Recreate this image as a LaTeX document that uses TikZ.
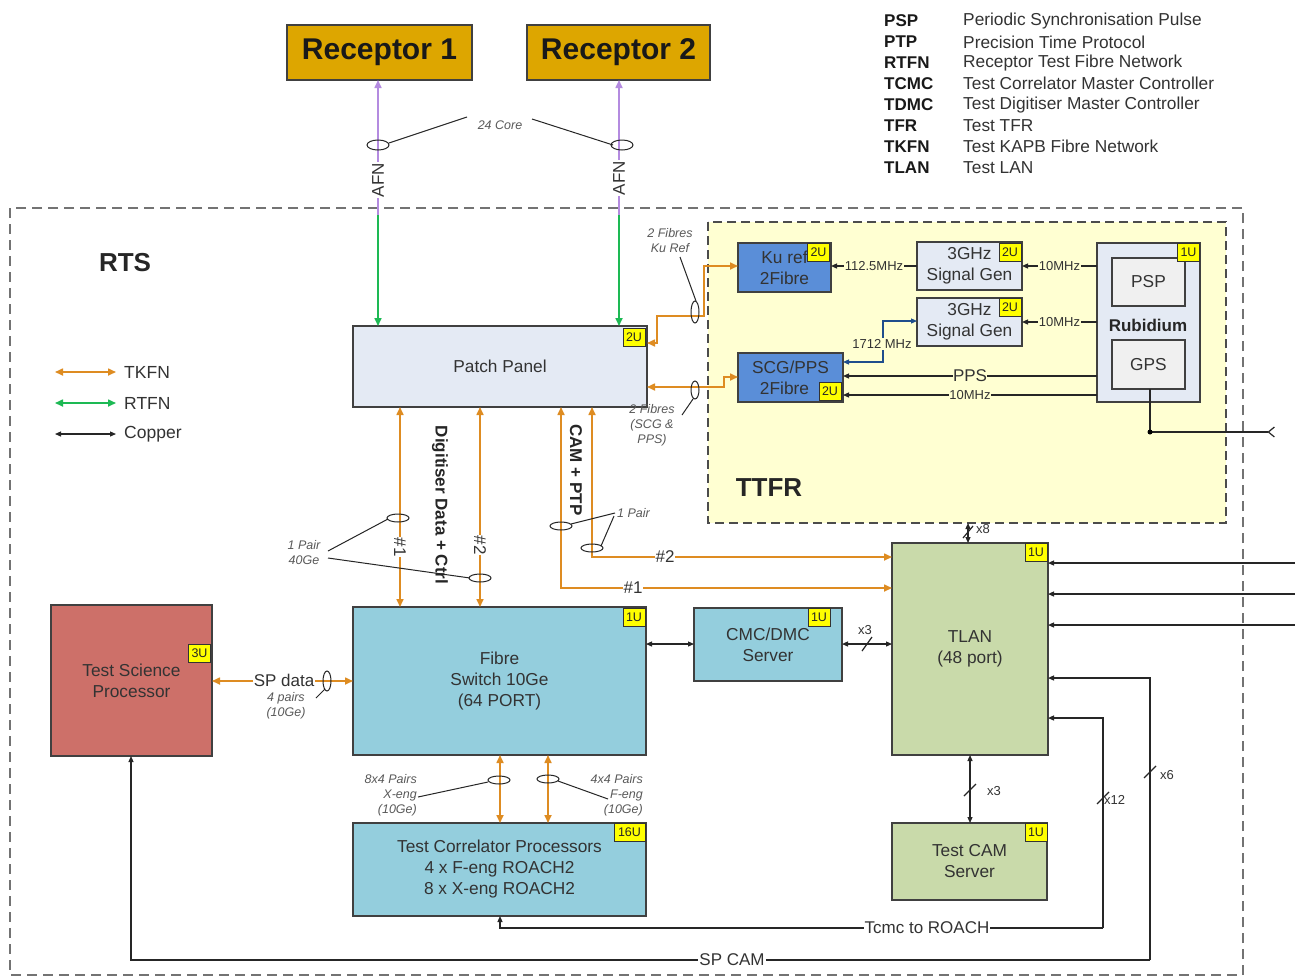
\documentclass[tikz,border=0pt]{standalone}
\usepackage{fontspec}
\setmainfont{Liberation Sans}
\usetikzlibrary{arrows.meta,calc,shapes.geometric}
\definecolor{gold}{HTML}{DDA600}
\definecolor{tkfn}{HTML}{DE8C22}
\definecolor{rtfn}{HTML}{1DB954}
\definecolor{afn}{HTML}{B48BE0}
\definecolor{pale}{HTML}{E4EAF4}
\definecolor{ttfrbg}{HTML}{FFFFD2}
\definecolor{midblue}{HTML}{5A8ED8}
\definecolor{tagyel}{HTML}{FFFF00}
\definecolor{teal}{HTML}{94CEDD}
\definecolor{brick}{HTML}{CD7069}
\definecolor{olive}{HTML}{C9DAAA}
\definecolor{lgray}{HTML}{F0F0F0}
\definecolor{navy}{HTML}{1F4E8C}
\begin{document}
\begin{tikzpicture}[x=1pt,y=-1pt,
  box/.style={draw=black!75, line width=1.2pt, inner sep=0pt, outer sep=0pt, align=center, font=\fontsize{17.3}{21}\selectfont, text=black!80},
  tag/.style={draw=black!80, fill=tagyel, line width=0.8pt, font=\fontsize{12.5}{12.5}\selectfont, inner sep=0pt, minimum width=22pt, minimum height=18pt, text=black!85},
  tk/.style={draw=tkfn, line width=1.6pt, >={Triangle[length=8pt,width=7pt]}},
  rt/.style={draw=rtfn, line width=1.6pt, >={Triangle[length=8pt,width=7pt]}},
  af/.style={draw=afn, line width=1.6pt, >={Triangle[length=8pt,width=7pt]}},
  cu/.style={draw=black!85, line width=1.2pt, >={Triangle[length=6pt,width=5pt]}},
  lab/.style={font=\fontsize{17}{17}\selectfont, fill=white, inner sep=1pt, text=black!80},
  sml/.style={font=\fontsize{13}{13}\selectfont, inner sep=1pt, text=black!80},
  note/.style={font=\itshape\fontsize{12.5}{15}\selectfont, text=black!65, align=center, inner sep=0pt},
  fib/.style={draw=black!85, line width=1pt},
  leader/.style={draw=black!85, line width=1pt},
  bigt/.style={font=\bfseries\fontsize{26}{26}\selectfont, text=black!85},
  abbr/.style={font=\bfseries\fontsize{17}{17}\selectfont, anchor=west, inner sep=0pt, text=black!90},
  desc/.style={font=\fontsize{17.3}{17}\selectfont, anchor=west, inner sep=0pt, text=black!80}
]
\useasboundingbox (0,0) rectangle (1295,978);
\fill[white] (0,0) rectangle (1295,978);

% RTS region
\draw[gray!90!black, line width=2pt, dash pattern=on 10pt off 6pt] (10,208) rectangle (1243,975);
% TTFR region
\draw[fill=ttfrbg, draw=black!70, line width=1.8pt, dash pattern=on 9pt off 5pt] (708,222) rectangle (1226,523);

\node[bigt] (rts) at (125,263) {RTS};
\node[bigt] (ttfr) at (769,488) {TTFR};

% abbreviations
\foreach \a/\d [count=\i from 0] in {PSP/Periodic Synchronisation Pulse, PTP/Precision Time Protocol, RTFN/Receptor Test Fibre Network, TCMC/Test Correlator Master Controller, TDMC/Test Digitiser Master Controller, TFR/Test TFR, TKFN/Test KAPB Fibre Network, TLAN/Test LAN}{
  \node[abbr] (ab\i) at (884,{21+20.9*\i}) {\a};
  \node[desc] (de\i) at (963,{21+20.9*\i}) {\d};
}

% receptors
\node[box, fill=gold, minimum width=185pt, minimum height=55pt, font=\bfseries\fontsize{30}{30}\selectfont, text=black!90] (rec1) at (379.5,52.5) {Receptor 1};
\node[box, fill=gold, minimum width=183pt, minimum height=55pt, font=\bfseries\fontsize{30}{30}\selectfont, text=black!90] (rec2) at (618.5,52.5) {Receptor 2};

% main boxes
\node[box, fill=pale, minimum width=294pt, minimum height=81pt] (patch) at (500,366.5) {Patch Panel};
\node[box, fill=midblue, minimum width=93pt, minimum height=49pt] (kuref) at (784.5,267.5) {Ku ref\\2Fibre};
\node[box, fill=pale, minimum width=105pt, minimum height=48pt] (sg1) at (969.5,266) {3GHz\\Signal Gen};
\node[box, fill=pale, minimum width=105pt, minimum height=48pt] (sg2) at (969.5,322) {3GHz\\Signal Gen};
\node[box, fill=midblue, minimum width=105pt, minimum height=49pt] (scg) at (790.5,377.5) {SCG/PPS\\2Fibre\hspace*{12pt}};
\node[box, fill=pale, minimum width=103pt, minimum height=159pt] (rub) at (1148.5,322.5) {};
\node[box, fill=lgray, minimum width=73pt, minimum height=48pt] (psp) at (1148.5,282) {PSP};
\node[box, fill=lgray, minimum width=73pt, minimum height=49pt] (gps) at (1148.5,364.5) {GPS};
\node[font=\bfseries\fontsize{17}{17}\selectfont, text=black!85] (rubl) at (1148,325) {Rubidium};
\node[box, fill=teal, minimum width=293pt, minimum height=148pt] (fsw) at (499.5,681) {Fibre\\Switch 10Ge\\(64 PORT)};
\node[box, fill=brick, minimum width=161pt, minimum height=151pt] (tsp) at (131.5,680.5) {Test Science\\Processor};
\node[box, fill=teal, minimum width=148pt, minimum height=73pt] (cmc) at (768,644.5) {CMC/DMC\\Server};
\node[box, fill=olive, minimum width=156pt, minimum height=212pt] (tlan) at (970,649) {TLAN\\(48 port)};
\node[box, fill=olive, minimum width=155pt, minimum height=77pt] (tcam) at (969.5,861.5) {Test CAM\\Server};
\node[box, fill=teal, minimum width=293pt, minimum height=93pt] (tcp) at (499.5,869.5) {Test Correlator Processors\\4 x F-eng ROACH2\\8 x X-eng ROACH2};

% tags
\node[tag] (tgpatch) at (634,337) {2U};
\node[tag] (tgku) at (818.5,252.5) {2U};
\node[tag] (tgsg1) at (1010,252) {2U};
\node[tag] (tgsg2) at (1010,307.5) {2U};
\node[tag] (tgscg) at (830,391) {2U};
\node[tag] (tgrub) at (1188.5,252.5) {1U};
\node[tag] (tgfsw) at (634,617) {1U};
\node[tag] (tgtsp) at (199.5,653) {3U};
\node[tag] (tgcmc) at (819,617) {1U};
\node[tag] (tgtlan) at (1036,552) {1U};
\node[tag] (tgtcam) at (1036,832) {1U};
\node[tag, minimum width=31pt] (tgtcp) at (629.5,832) {16U};

% AFN / RTFN from receptors
\coordinate (a1) at (378,215);
\coordinate (a2) at (619,215);
\draw[af,->] (a1) -- (a1 |- rec1.south);
\draw[af,->] (a2) -- (a2 |- rec2.south);
\draw[rt,->] (a1) -- (a1 |- patch.north);
\draw[rt,->] (a2) -- (a2 |- patch.north);
\node[font=\fontsize{17}{17}\selectfont, rotate=90, fill=white, inner sep=1pt, text=black!80] (afn1) at (378,180) {AFN};
\node[font=\fontsize{17}{17}\selectfont, rotate=90, fill=white, inner sep=1pt, text=black!80] (afn2) at (619,178) {AFN};
\draw[fib] (378,145) ellipse [x radius=11pt, y radius=5pt];
\draw[fib] (622,145) ellipse [x radius=11pt, y radius=5pt];
\node[note] (core) at (500,125) {24 Core};
\draw[leader] (389,143) -- (467,117);
\draw[leader] (532,119) -- (613,145);

% legend
\coordinate (lg1) at (55,372); \coordinate (lg1e) at (116,372);
\coordinate (lg2) at (55,403); \coordinate (lg2e) at (116,403);
\coordinate (lg3) at (55,434); \coordinate (lg3e) at (116,434);
\draw[tk,<->] (lg1) -- (lg1e);
\draw[rt,<->] (lg2) -- (lg2e);
\draw[cu,<->] (lg3) -- (lg3e);
\node[desc, font=\fontsize{17.5}{17.5}\selectfont] (lgt1) at (124,372) {TKFN};
\node[desc, font=\fontsize{17.5}{17.5}\selectfont] (lgt2) at (124,403) {RTFN};
\node[desc, font=\fontsize{17.5}{17.5}\selectfont] (lgt3) at (124,434) {Copper};

% TTFR internal
\draw[cu,->] (sg1.west) -- (sg1.west -| kuref.east) node[midway, sml, fill=ttfrbg] (l1125) {112.5MHz};
\draw[cu,->] (rub.west |- sg1.west) -- (sg1.east) node[midway, sml, fill=ttfrbg] (l10a) {10MHz};
\draw[cu,->] (rub.west |- sg2.west) -- (sg2.east) node[midway, sml, fill=ttfrbg] (l10b) {10MHz};
\coordinate (q1) at (883,362);
\draw[cu, draw=navy, <->] (q1 -| scg.east) -- (q1) -- (883,321) -- (sg2.west |- 0,321);
\node[sml, fill=ttfrbg] (l1712) at (882,344) {1712 MHz};
\draw[cu,->] (rub.west |- 0,376) -- (scg.east |- 0,376) node[pos=0.5, font=\fontsize{17}{17}\selectfont, fill=ttfrbg, inner sep=0pt, text=black!80] (lpps) {PPS};
\draw[cu,->] (rub.west |- 0,395) -- (scg.east |- 0,395) node[pos=0.5, sml, fill=ttfrbg, inner sep=0pt] (l10c) {10MHz};
\coordinate (gd) at (1150,432);
\coordinate (gend) at (1275,432);
\draw[cu, -{Straight Barb[reversed, length=6pt, width=10pt]}] (gps.south -| gd) -- (gd) -- (gend);
\fill (gd) circle [radius=2.5pt];

% orange fibres from patch to TTFR
\draw[tk,<->] (patch.east |- 0,343) -- (657,343) -- (657,316) -- (704,316) -- (704,266) -- (kuref.west |- 0,266);
\draw[tk,<->] (patch.east |- 0,387) -- (724,387) -- (724,377) -- (scg.west |- 0,377);
\draw[fib] (695,312) ellipse [x radius=4pt, y radius=11pt];
\draw[fib] (695,390) ellipse [x radius=4pt, y radius=9pt];
\node[note] (f2ku) at (670,241) {2 Fibres\\Ku Ref};
\draw[leader] (696,301) -- (680,257);
\node[note] (f2scg) at (652,425) {2 Fibres\\(SCG \&\\PPS)};
\draw[leader] (693,399) -- (682,415);

% Digitiser data
\coordinate (d1) at (400,407);
\coordinate (d2) at (480,407);
\draw[tk,<->] (d1) -- (d1 |- fsw.north);
\draw[tk,<->] (d2) -- (d2 |- fsw.north);
\node[font=\bfseries\fontsize{17}{17}\selectfont, rotate=-90, text=black!85] (dig) at (440,505) {Digitiser Data + Ctrl};
\node[font=\fontsize{17}{17}\selectfont, rotate=-90, fill=white, inner sep=1pt, text=black!80] (h1) at (400,547) {\#1};
\node[font=\fontsize{17}{17}\selectfont, rotate=-90, fill=white, inner sep=1pt, text=black!80] (h2) at (480,545) {\#2};
\draw[fib] (398,518) ellipse [x radius=11pt, y radius=4pt];
\draw[fib] (480,578) ellipse [x radius=11pt, y radius=4pt];
\node[note] (p40) at (304,553) {1 Pair\\40Ge};
\draw[leader] (328,551) -- (388,519);
\draw[leader] (328,558) -- (470,578);

% CAM + PTP
\coordinate (c1) at (561,407);
\coordinate (c2) at (592,407);
\draw[tk,<->] (c1) -- (561,588) -- (tlan.west |- 0,588);
\draw[tk,<->] (c2) -- (592,557) -- (tlan.west |- 0,557);
\node[font=\fontsize{17}{17}\selectfont, fill=white, inner sep=1pt, text=black!80] (hc1) at (633,588) {\#1};
\node[font=\fontsize{17}{17}\selectfont, fill=white, inner sep=1pt, text=black!80] (hc2) at (665,557) {\#2};
\node[font=\bfseries\fontsize{17}{17}\selectfont, rotate=-90, text=black!85] (camptp) at (576,470) {CAM + PTP};
\draw[fib] (561,526) ellipse [x radius=11pt, y radius=4pt];
\draw[fib] (592,548) ellipse [x radius=11pt, y radius=4pt];
\node[note, anchor=west] (p1) at (617,513) {1 Pair};
\draw[leader] (571,524) -- (615,513);
\draw[leader] (601,546) -- (614,516);

% SP data
\draw[tk,<->] (tsp.east |- 0,681) -- (fsw.west |- 0,681);
\node[lab] (spd) at (284,680) {SP data};
\draw[fib] (327,681) ellipse [x radius=4pt, y radius=10pt];
\draw[leader] (325,689) -- (316,698);
\node[note] (p4) at (286,706) {4 pairs\\(10Ge)};

% fibre switch <-> correlator
\coordinate (e1) at (500,755);
\coordinate (e2) at (548,755);
\draw[tk,<->] (e1) -- (e1 |- tcp.north);
\draw[tk,<->] (e2) -- (e2 |- tcp.north);
\draw[fib] (499,780) ellipse [x radius=11pt, y radius=4pt];
\draw[fib] (548,779) ellipse [x radius=11pt, y radius=4pt];
\draw[leader] (488,782) -- (418,797);
\draw[leader] (558,781) -- (608,799);
\node[note, align=right, anchor=east] (x8x4) at (417,795) {8x4 Pairs\\X-eng\\(10Ge)};
\node[note, align=right, anchor=east] (f4x4) at (643,795) {4x4 Pairs\\F-eng\\(10Ge)};

% copper
\draw[cu,<->] (fsw.east |- 0,644) -- (cmc.west |- 0,644);
\draw[cu,<->] (cmc.east |- 0,644) -- (tlan.west |- 0,644);
\draw[cu] (862,651) -- (872,637);
\node[sml] (x3a) at (865,630) {x3};
\coordinate (tt) at (968,523);
\draw[cu,<->] (tt) -- (tt |- tlan.north);
\draw[cu] (963,538) -- (973,526);
\node[sml, anchor=west, inner sep=0pt] (x8) at (976,529) {x8};
\coordinate (tc) at (970,755);
\draw[cu,<->] (tc) -- (tc |- tcam.north);
\draw[cu] (964,796) -- (976,784);
\node[sml] (x3b) at (994,791) {x3};
\foreach \yy [count=\k] in {563,594,625}{
  \coordinate (rin\k) at (1295,\yy);
  \draw[cu,->] (rin\k) -- (rin\k -| tlan.east);
}
% Tcmc to ROACH
\coordinate (tr1) at (1103,718);
\coordinate (tr2) at (1103,928);
\coordinate (tr3) at (500,928);
\draw[cu,->] (tr2) -- (tr1) -- (tr1 -| tlan.east);
\draw[cu,->] (tr2) -- (tr3) -- (tr3 |- tcp.south);
\node[font=\fontsize{17}{17}\selectfont, fill=white, inner sep=1pt, text=black!80] (ltcmc) at (927,928) {Tcmc to ROACH};
\draw[cu] (1097,804) -- (1109,792);
\node[sml, anchor=west, inner sep=0pt] (x12) at (1104,800) {x12};
% SP CAM
\coordinate (sc1) at (1150,678);
\coordinate (sc2) at (1150,960);
\coordinate (sc3) at (131,960);
\draw[cu,->] (sc2) -- (sc1) -- (sc1 -| tlan.east);
\draw[cu,->] (sc2) -- (sc3) -- (sc3 |- tsp.south);
\node[font=\fontsize{17}{17}\selectfont, fill=white, inner sep=1pt, text=black!80] (lspcam) at (732,960) {SP CAM};
\draw[cu] (1144,778) -- (1156,766);
\node[sml, anchor=west, inner sep=0pt] (x6) at (1160,775) {x6};
\end{tikzpicture}
\end{document}
